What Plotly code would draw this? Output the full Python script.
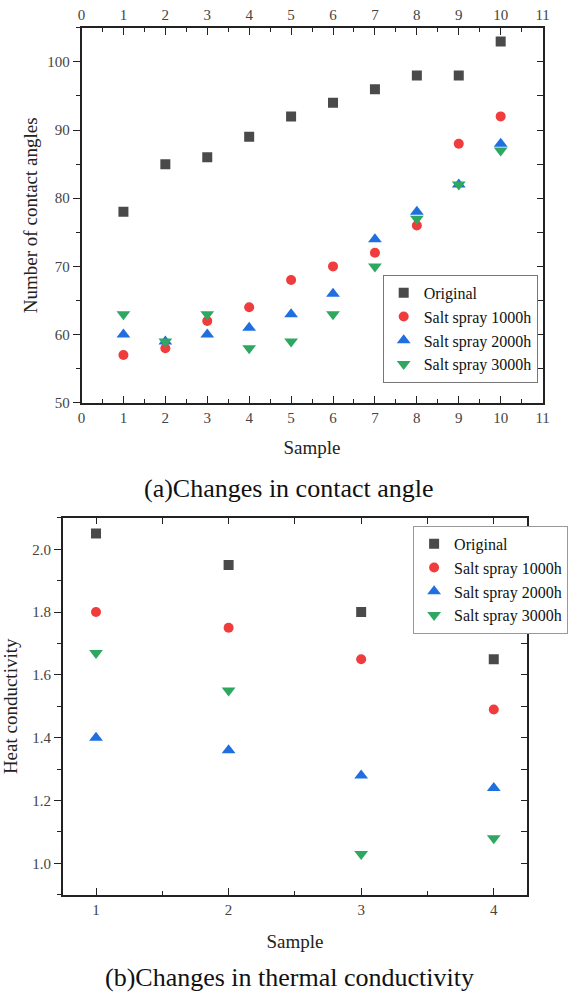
import plotly.graph_objects as go

# ---------------- data ----------------
samples_a = [1, 2, 3, 4, 5, 6, 7, 8, 9, 10]
original_a = [78, 85, 86, 89, 92, 94, 96, 98, 98, 103]
salt1000_a = [57, 58, 62, 64, 68, 70, 72, 76, 88, 92]
salt2000_a = [60, 59, 60, 61, 63, 66, 74, 78, 82, 88]
salt3000_a = [63, 59, 63, 58, 59, 63, 70, 77, 82, 87]

samples_b = [1, 2, 3, 4]
original_b = [2.05, 1.95, 1.80, 1.65]
salt1000_b = [1.80, 1.75, 1.65, 1.49]
salt2000_b = [1.40, 1.36, 1.28, 1.24]
salt3000_b = [1.67, 1.55, 1.03, 1.08]

names = ["Original", "Salt spray 1000h", "Salt spray 2000h", "Salt spray 3000h"]
colors = ["#4a4a4a", "#f03c3c", "#1f6fe0", "#2ea860"]
symbols = ["square", "circle", "triangle-up", "triangle-down"]
sizes = [10, 10, 12, 12]

W, H = 581, 1004
SERIF = "Liberation Serif"
TICKFONT = dict(family=SERIF, size=15, color="#444444")
TITLEFONT = dict(family=SERIF, size=19, color="#222222")
LINE = dict(showline=True, linecolor="#222222", linewidth=1.6, showgrid=False, zeroline=False,
            tickcolor="#222222", tickwidth=1.4)

def px_x(p):
    return p / W

def px_y(p):
    return 1 - p / H

fig = go.Figure()

series_a = [original_a, salt1000_a, salt2000_a, salt3000_a]
series_b = [original_b, salt1000_b, salt2000_b, salt3000_b]

for i in range(4):
    fig.add_trace(go.Scatter(
        x=samples_a, y=series_a[i], mode="markers", name=names[i],
        marker=dict(symbol=symbols[i], color=colors[i], size=sizes[i], line=dict(width=0)),
        xaxis="x", yaxis="y", legend="legend"))
for i in range(4):
    fig.add_trace(go.Scatter(
        x=samples_b, y=series_b[i], mode="markers", name=names[i],
        marker=dict(symbol=symbols[i], color=colors[i], size=sizes[i], line=dict(width=0)),
        xaxis="x2", yaxis="y2", legend="legend2"))

# empty helper traces so the mirror axes are drawn
fig.add_trace(go.Scatter(x=[], y=[], xaxis="x3", yaxis="y3", showlegend=False))
fig.add_trace(go.Scatter(x=[], y=[], xaxis="x4", yaxis="y4", showlegend=False))

dom_x_a = [px_x(79), px_x(549)]
dom_y_a = [px_y(406), px_y(28)]
dom_x_b = [px_x(60), px_x(533)]
dom_y_b = [px_y(902), px_y(522)]

fig.update_layout(
    width=W, height=H,
    margin=dict(l=0, r=0, t=0, b=0),
    paper_bgcolor="white", plot_bgcolor="white",
    # ---- top chart ----
    xaxis=dict(domain=dom_x_a, anchor="y", range=[0, 11], dtick=1, tick0=0,
               ticks="inside", ticklen=7, tickfont=TICKFONT,
               minor=dict(dtick=0.5, ticks="inside", ticklen=4, tickcolor="#222222"),
               title=dict(text="Sample", font=TITLEFONT, standoff=16), **LINE),
    yaxis=dict(domain=dom_y_a, anchor="x", range=[50, 105], dtick=10, tick0=50,
               ticks="outside", ticklen=7, tickfont=TICKFONT,
               minor=dict(dtick=5, ticks="outside", ticklen=4, tickcolor="#222222"),
               title=dict(text="Number of contact angles", font=TITLEFONT, standoff=5), **LINE),
    xaxis3=dict(overlaying="x", anchor="y", side="top", range=[0, 11], dtick=1, tick0=0,
                ticks="inside", ticklen=7, tickfont=TICKFONT,
                minor=dict(dtick=0.5, ticks="inside", ticklen=4, tickcolor="#222222"), **LINE),
    yaxis3=dict(overlaying="y", anchor="x", side="right", range=[50, 105], dtick=5, tick0=50,
                ticks="inside", ticklen=6, showticklabels=False, **LINE),
    # ---- bottom chart ----
    xaxis2=dict(domain=dom_x_b, anchor="y2", range=[0.75, 4.25], dtick=1, tick0=1,
                ticks="inside", ticklen=7, tickfont=TICKFONT,
                minor=dict(dtick=0.5, tick0=0.5, ticks="inside", ticklen=4, tickcolor="#222222"),
                title=dict(text="Sample", font=TITLEFONT, standoff=18), **LINE),
    yaxis2=dict(domain=dom_y_b, anchor="x2", range=[0.9, 2.1], dtick=0.2, tick0=1.0,
                tickformat=".1f", ticks="outside", ticklen=7, tickfont=TICKFONT,
                minor=dict(dtick=0.1, ticks="outside", ticklen=4, tickcolor="#222222"),
                title=dict(text="Heat conductivity", font=TITLEFONT, standoff=11), **LINE),
    xaxis4=dict(overlaying="x2", anchor="y2", side="top", range=[0.75, 4.25], dtick=0.5, tick0=1,
                ticks="inside", ticklen=6, showticklabels=False, **LINE),
    yaxis4=dict(overlaying="y2", anchor="x2", side="right", range=[0.9, 2.1], dtick=0.1, tick0=1.0,
                ticks="inside", ticklen=6, showticklabels=False, **LINE),
    legend=dict(x=px_x(386), y=px_y(277), xanchor="left", yanchor="top",
                bordercolor="#777777", borderwidth=1, bgcolor="white",
                font=dict(family=SERIF, size=16, color="#111111"),
                tracegroupgap=0, itemwidth=30),
    legend2=dict(x=px_x(417), y=px_y(530), xanchor="left", yanchor="top",
                 bordercolor="#999999", borderwidth=1, bgcolor="white",
                 font=dict(family=SERIF, size=16, color="#111111"),
                 tracegroupgap=0, itemwidth=30),
    annotations=[
        dict(text="(a)Changes in contact angle", x=0.5, y=px_y(492), xref="paper", yref="paper",
             xanchor="center", yanchor="middle", showarrow=False,
             font=dict(family=SERIF, size=26, color="#111111")),
        dict(text="(b)Changes in thermal conductivity", x=0.5, y=px_y(985), xref="paper", yref="paper",
             xanchor="center", yanchor="middle", showarrow=False,
             font=dict(family=SERIF, size=26, color="#111111")),
    ],
)

fig.write_html("out.html")
